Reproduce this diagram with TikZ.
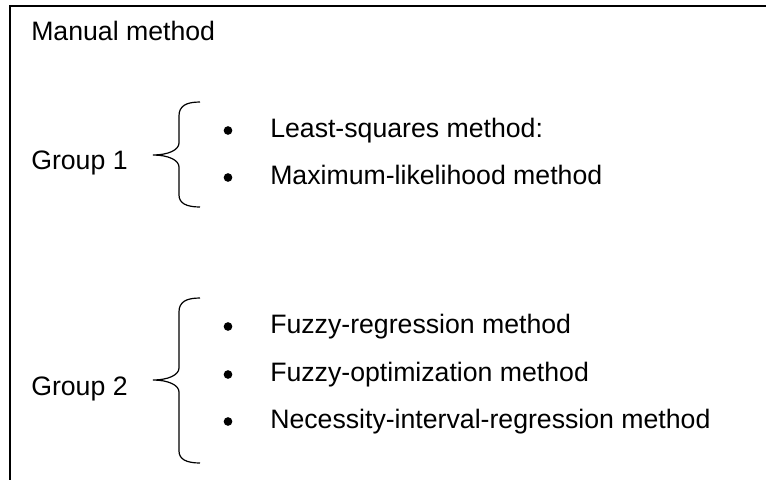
\documentclass[tikz,border=0pt]{standalone}
\usepackage{fontspec}
\setmainfont{Liberation Sans}
\usetikzlibrary{positioning,calc}

\begin{document}
\begin{tikzpicture}[
  x=0.75pt, y=-0.75pt,
  txt/.style={anchor=base west, inner sep=0pt, font=\fontsize{20}{24}\selectfont},
  dot/.style={circle, fill=black, inner sep=0pt, minimum size=6.5pt},
  frame/.style={line width=1.1pt},
  brc/.style={line width=0.9pt}
]
  \useasboundingbox (0,0) rectangle (766,483);
  % open frame: top and left edge only
  \coordinate (TL) at (10,6);
  \coordinate (TR) at (766,6);
  \coordinate (BL) at (10,480);
  \draw[frame] (TR) -- (TL) -- (BL);

  \node[txt] (M) at (31,40) {Manual method};

  % group 1
  \node[txt] (G1) at (31,169) {Group 1};
  \foreach \n/\y/\t in {a/137/Least-squares method:,
                        b/184/Maximum-likelihood method}{
    \node[dot] (D1\n) at (228,\y-6.5) {};
    \node[txt] (I1\n) at (270,\y) {\t};
  }
  \draw[brc] (200,102) .. controls (186,102) and (179,106) .. (179,116)
    -- (179,143) .. controls (179,150) and (168,155) .. (153,155)
    .. controls (168,155) and (179,160) .. (179,167)
    -- (179,195) .. controls (179,203) and (186,207) .. (200,207);

  % group 2
  \node[txt] (G2) at (31,395) {Group 2};
  \foreach \n/\y/\t in {a/333/Fuzzy-regression method,
                        b/381/Fuzzy-optimization method,
                        c/428/Necessity-interval-regression method}{
    \node[dot] (D2\n) at (228,\y-6.5) {};
    \node[txt] (I2\n) at (270,\y) {\t};
  }
  \draw[brc] (200,298) .. controls (186,298) and (179,302) .. (179,312)
    -- (179,368) .. controls (179,375) and (168,380) .. (153,380)
    .. controls (168,380) and (179,385) .. (179,392)
    -- (179,451) .. controls (179,459) and (186,463) .. (200,463);
\end{tikzpicture}
\end{document}
